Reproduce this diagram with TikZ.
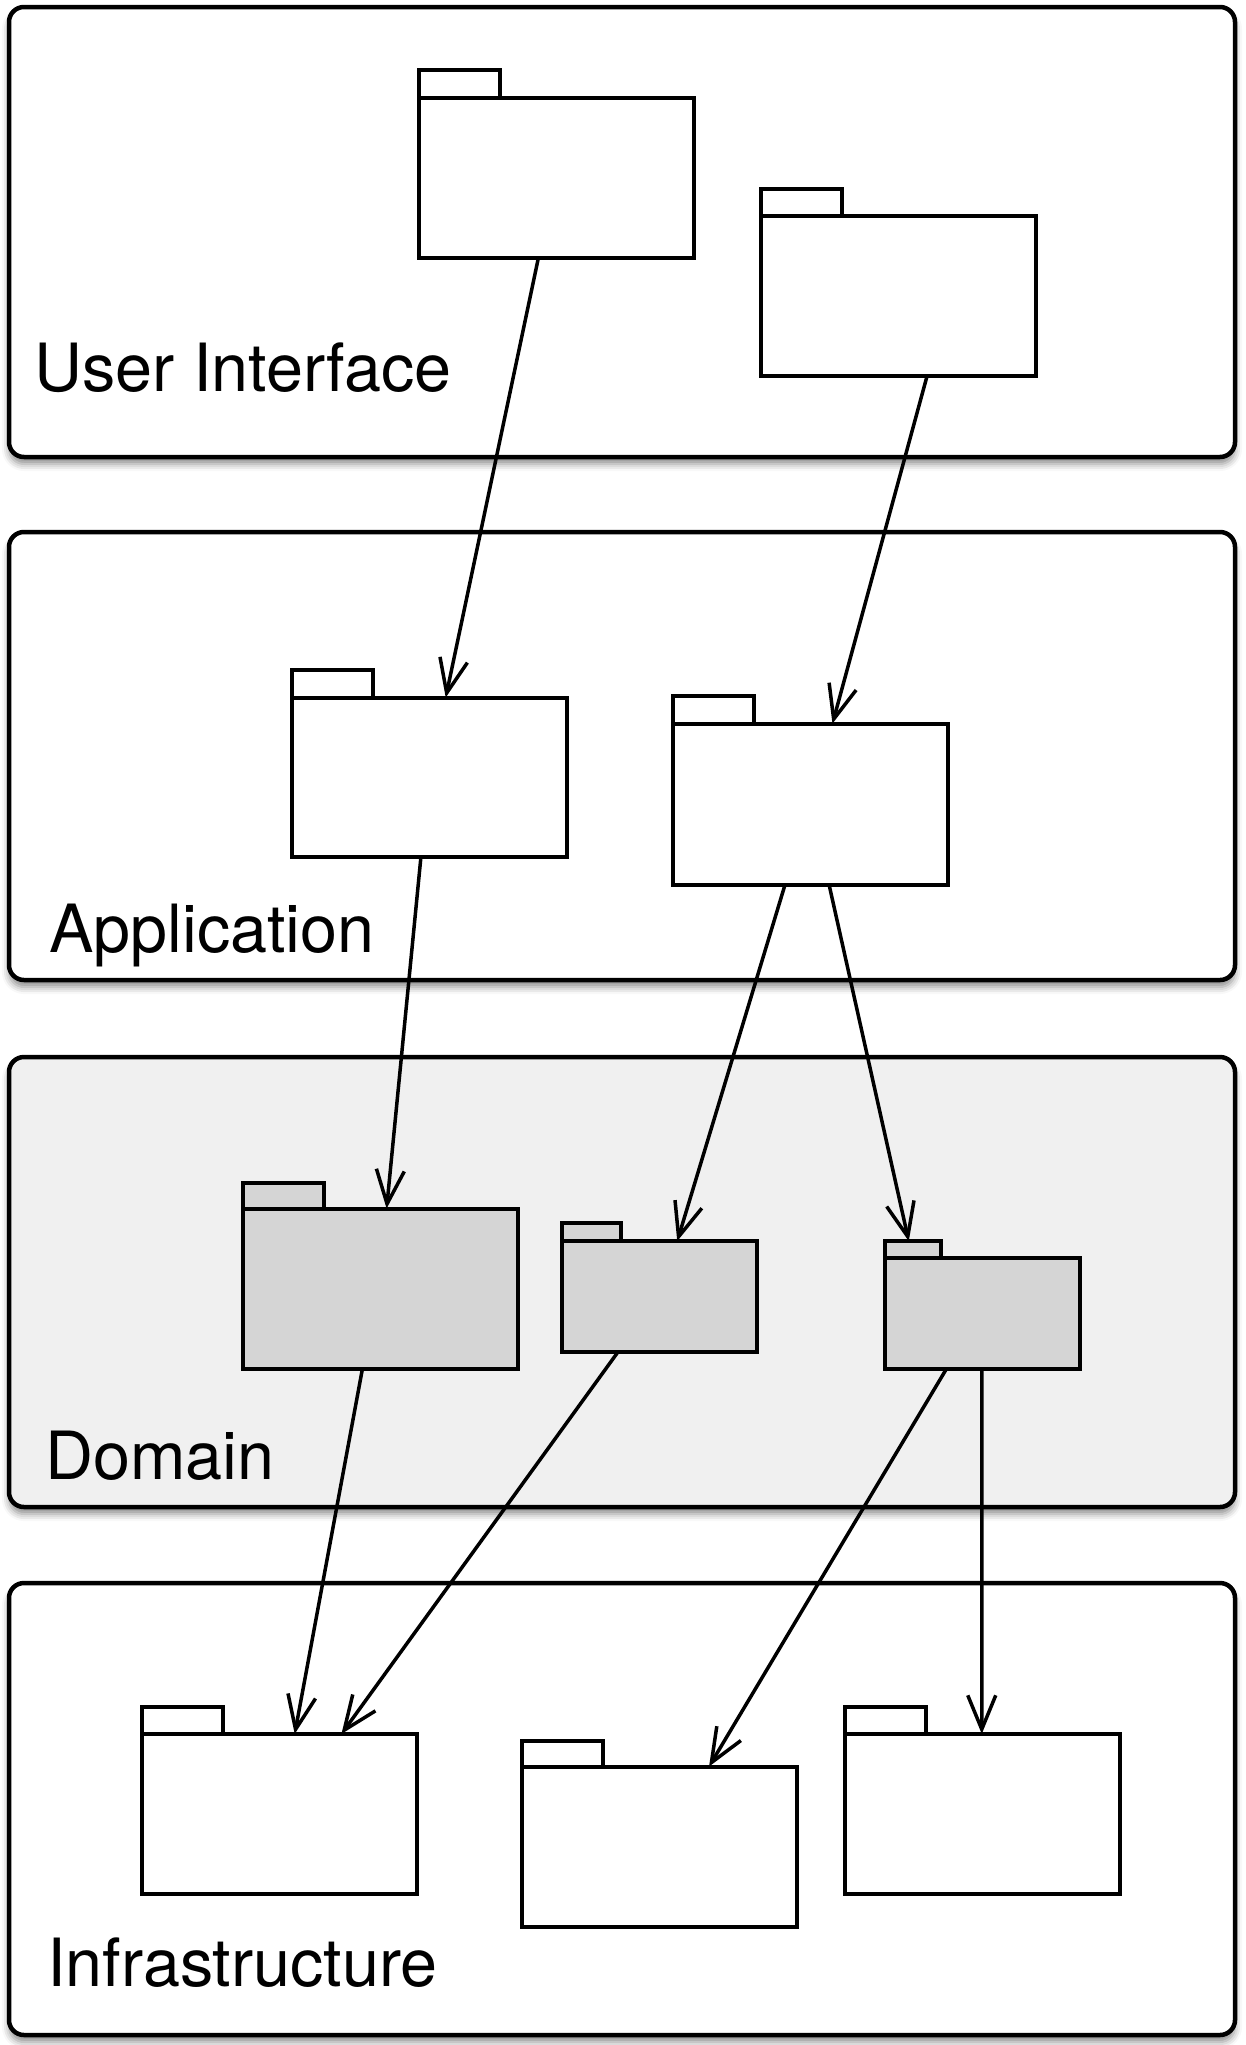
\documentclass[tikz,border=0pt]{standalone}
\usepackage{fontspec}
\setmainfont{TeX Gyre Heros}
\usetikzlibrary{arrows.meta,calc,shadows.blur}
\definecolor{dombg}{HTML}{F0F0F0}
\definecolor{dompkg}{HTML}{D5D5D5}
\tikzset{
  layer/.style={draw=black, line width=4.5pt, rounded corners=15pt, fill=white,
    blur shadow={shadow xshift=0pt, shadow yshift=-7pt, shadow blur radius=7pt, shadow opacity=45}},
  pkgbody/.style={draw=black, line width=4pt, fill=white, inner sep=0pt, outer sep=0pt, anchor=north west},
  pkgtab/.style={draw=black, line width=4pt, fill=white, inner sep=0pt, outer sep=0pt, anchor=south west},
  dom/.style={fill=dompkg},
  dep/.style={draw=black, line width=3.5pt, -{Straight Barb[length=34pt,width=28pt,line width=3.5pt]}},
  lbl/.style={anchor=base west, inner sep=0pt, font=\fontsize{66.5pt}{70pt}\selectfont}
}
\begin{document}
\begin{tikzpicture}[x=1pt,y=-1pt]
\useasboundingbox (0,0) rectangle (1245,2045);
% layers
\draw[layer] (9,7) rectangle (1235,457);
\draw[layer] (9,532) rectangle (1235,980);
\draw[layer, fill=dombg] (9,1057) rectangle (1235,1507);
\draw[layer] (9,1583) rectangle (1235,2035);
% labels
\node[lbl] (lui) at (34,391) {User Interface};
\node[lbl] (lapp) at (49,952) {Application};
\node[lbl] (ldom) at (45,1479) {Domain};
\node[lbl] (linf) at (47,1986) {Infrastructure};
% UI packages
\node[pkgbody, minimum width=275pt, minimum height=160pt] (ui1) at (418.5,97.8) {};
\node[pkgtab, minimum width=81pt, minimum height=27.4pt] (ui1t) at (ui1.north west) {};
\node[pkgbody, minimum width=275pt, minimum height=160pt] (ui2) at (761.4,216.4) {};
\node[pkgtab, minimum width=81pt, minimum height=27.4pt] (ui2t) at (ui2.north west) {};
% Application packages
\node[pkgbody, minimum width=275pt, minimum height=159pt] (app1) at (292,697.5) {};
\node[pkgtab, minimum width=81pt, minimum height=27.4pt] (app1t) at (app1.north west) {};
\node[pkgbody, minimum width=275pt, minimum height=161.5pt] (app2) at (672.7,723.6) {};
\node[pkgtab, minimum width=81pt, minimum height=27.4pt] (app2t) at (app2.north west) {};
% Domain packages
\node[pkgbody, dom, minimum width=275pt, minimum height=160.4pt] (dom1) at (242.5,1208.5) {};
\node[pkgtab, dom, minimum width=81pt, minimum height=26pt] (dom1t) at (dom1.north west) {};
\node[pkgbody, dom, minimum width=195.5pt, minimum height=110.8pt] (dom2) at (561.9,1241.1) {};
\node[pkgtab, dom, minimum width=58.7pt, minimum height=18.2pt] (dom2t) at (dom2.north west) {};
\node[pkgbody, dom, minimum width=194.3pt, minimum height=110.8pt] (dom3) at (885.2,1258.1) {};
\node[pkgtab, dom, minimum width=56.1pt, minimum height=17pt] (dom3t) at (dom3.north west) {};
% Infrastructure packages
\node[pkgbody, minimum width=275pt, minimum height=160.4pt] (inf1) at (142.1,1733.9) {};
\node[pkgtab, minimum width=81pt, minimum height=27.4pt] (inf1t) at (inf1.north west) {};
\node[pkgbody, minimum width=275pt, minimum height=160.4pt] (inf2) at (521.5,1766.5) {};
\node[pkgtab, minimum width=81pt, minimum height=26pt] (inf2t) at (inf2.north west) {};
\node[pkgbody, minimum width=275pt, minimum height=160.4pt] (inf3) at (844.8,1733.9) {};
\node[pkgtab, minimum width=81pt, minimum height=27.4pt] (inf3t) at (inf3.north west) {};
% dependencies
\draw[dep] ($(ui1.south west)!0.436!(ui1.south east)$) -- ($(app1.north west)!0.559!(app1.north east)$);
\draw[dep] ($(ui2.south west)!0.602!(ui2.south east)$) -- ($(app2.north west)!0.581!(app2.north east)$);
\draw[dep] ($(app1.south west)!0.469!(app1.south east)$) -- ($(dom1.north west)!0.524!(dom1.north east)$);
\draw[dep] ($(app2.south west)!0.408!(app2.south east)$) -- ($(dom2.north west)!0.59!(dom2.north east)$);
\draw[dep] ($(app2.south west)!0.569!(app2.south east)$) -- ($(dom3t.north west)!0.42!(dom3t.north east)$);
\draw[dep] ($(dom1.south west)!0.436!(dom1.south east)$) -- ($(inf1.north west)!0.555!(inf1.north east)$);
\draw[dep] ($(dom2.south west)!0.287!(dom2.south east)$) -- ($(inf1.north west)!0.725!(inf1.north east)$);
\draw[dep] ($(dom3.south west)!0.315!(dom3.south east)$) -- ($(inf2.north west)!0.682!(inf2.north east)$);
\draw[dep] ($(dom3.south west)!0.497!(dom3.south east)$) -- ($(inf3.north west)!0.498!(inf3.north east)$);
\end{tikzpicture}
\end{document}
